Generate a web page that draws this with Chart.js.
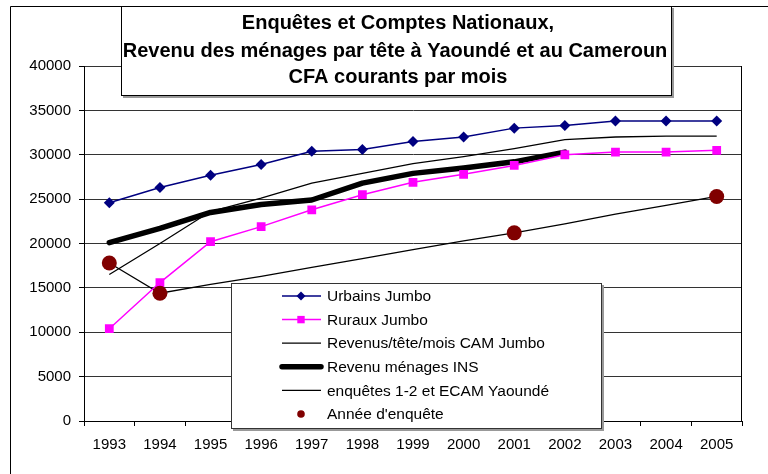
<!DOCTYPE html>
<html>
<head>
<meta charset="utf-8">
<title>Revenu des ménages par tête</title>
<script src="https://cdn.jsdelivr.net/npm/chart.js"></script>
<style>
  body { margin: 0; background: #fff; }
  #wrap { width: 768px; height: 474px; }
</style>
</head>
<body>
<div id="wrap"><canvas id="revenuChart" width="768" height="474"></canvas></div>
<script>
// data
var years = ['1993', '1994', '1995', '1996', '1997', '1998', '1999', '2000', '2001', '2002', '2003', '2004', '2005'];
var urbains = [24600, 26300, 27700, 28900, 30400, 30600, 31500, 32000, 33000, 33300, 33800, 33800, 33800];
var ruraux = [10400, 15600, 20200, 21900, 23800, 25500, 26900, 27800, 28800, 30000, 30300, 30300, 30500];
var camJumbo = [16500, 20000, 23600, 25100, 26800, 27900, 29000, 29800, 30700, 31700, 32000, 32100, 32100];
var menagesIns = [20100, 21700, 23500, 24400, 24900, 26800, 27900, 28500, 29200, 30300, null, null, null];
var enquetes = [17800, 14400, 15400, 16300, 17300, 18300, 19300, 20300, 21200, 22200, 23300, 24300, 25300];
var anneeEnquete = [17800, 14400, null, null, null, null, null, null, 21200, null, null, null, 25300];

var yMin = 0, yMax = 40000, yStep = 5000;

var titleLines = [
  'Enquêtes et Comptes Nationaux,',
  'Revenu des ménages par tête à Yaoundé et au Cameroun',
  'CFA courants par mois'
];
var seriesLabels = [
  'Urbains Jumbo',
  'Ruraux Jumbo',
  'Revenus/tête/mois CAM Jumbo',
  'Revenu ménages INS',
  'enquêtes 1-2 et ECAM Yaoundé',
  "Année d'enquête"
];

var FONT = 'Arial, "Liberation Sans", sans-serif';

// small marker for the legend box
function legendMarker(ctx, style, x, y, color) {
  ctx.fillStyle = color;
  ctx.beginPath();
  if (style === 'rectRot') {
    ctx.moveTo(x, y - 4.5); ctx.lineTo(x + 4.5, y); ctx.lineTo(x, y + 4.5); ctx.lineTo(x - 4.5, y);
    ctx.closePath();
  } else if (style === 'rect') {
    ctx.rect(x - 3.7, y - 3.7, 7.4, 7.4);
  } else {
    ctx.arc(x, y, 3.8, 0, Math.PI * 2);
  }
  ctx.fill();
}

var boxesPlugin = {
  id: 'boxes',
  beforeDraw: function(chart) {
    var ctx = chart.ctx;
    ctx.save();
    ctx.fillStyle = '#fff';
    ctx.fillRect(0, 0, chart.width, chart.height);
    // outer frame (only left and top are inside the picture)
    ctx.strokeStyle = '#000';
    ctx.lineWidth = 1;
    ctx.beginPath();
    ctx.moveTo(10.5, chart.height);
    ctx.lineTo(10.5, 6.5);
    ctx.lineTo(chart.width, 6.5);
    ctx.stroke();
    ctx.restore();
  },
  beforeDatasetsDraw: function(chart) {
    var ctx = chart.ctx, a = chart.chartArea;
    ctx.save();
    ctx.strokeStyle = '#000';
    ctx.lineWidth = 1;
    ctx.beginPath();
    ctx.moveTo(Math.round(a.right) - 0.5, a.top);
    ctx.lineTo(Math.round(a.right) - 0.5, a.bottom);
    ctx.stroke();
    ctx.restore();
  },
  afterDraw: function(chart) {
    var ctx = chart.ctx;
    ctx.save();

    // title box
    ctx.fillStyle = '#999';
    ctx.fillRect(123, 8, 551, 90);
    ctx.fillStyle = '#fff';
    ctx.fillRect(121, 6, 551, 90);
    ctx.strokeStyle = '#000';
    ctx.lineWidth = 1;
    ctx.strokeRect(121.5, 6.5, 550, 89);
    ctx.fillStyle = '#000';
    ctx.font = 'bold 20px ' + FONT;
    ctx.textAlign = 'center';
    ctx.textBaseline = 'alphabetic';
    ctx.fillText(titleLines[0], 398, 29);
    ctx.fillText(titleLines[1], 395, 57);
    ctx.fillText(titleLines[2], 398, 83);

    // legend box
    ctx.fillStyle = '#999';
    ctx.fillRect(233, 285, 371, 146);
    ctx.fillStyle = '#fff';
    ctx.fillRect(231, 283, 371, 146);
    ctx.strokeStyle = '#333';
    ctx.strokeRect(231.5, 283.5, 370, 145);

    ctx.font = '15.5px ' + FONT;
    ctx.textAlign = 'left';
    ctx.textBaseline = 'middle';
    chart.data.datasets.forEach(function(ds, i) {
      var y = 296 + i * 23.6;
      if (ds.showLine !== false) {
        ctx.strokeStyle = ds.borderColor;
        ctx.lineWidth = ds.borderWidth;
        ctx.lineCap = ds.borderWidth > 3 ? 'round' : 'butt';
        ctx.beginPath();
        ctx.moveTo(282, y);
        ctx.lineTo(321, y);
        ctx.stroke();
      }
      if (ds.pointRadius > 0) {
        legendMarker(ctx, ds.pointStyle, 301, y, ds.pointBackgroundColor);
      }
      ctx.fillStyle = '#000';
      ctx.fillText(ds.label, 327, y + 1);
    });
    ctx.restore();
  }
};

var ctx = document.getElementById('revenuChart');

var revenuChart = new Chart(ctx, {
  type: 'line',
  data: {
    labels: years,
    datasets: [
      {
        label: seriesLabels[0],
        data: urbains,
        borderColor: '#000080',
        backgroundColor: '#000080',
        borderWidth: 1.5,
        pointStyle: 'rectRot',
        pointRadius: 5.5,
        pointBackgroundColor: '#000080',
        pointBorderColor: '#000080',
        pointBorderWidth: 0,
        order: 1
      },
      {
        label: seriesLabels[1],
        data: ruraux,
        borderColor: '#ff00ff',
        backgroundColor: '#ff00ff',
        borderWidth: 1.5,
        pointStyle: 'rect',
        pointRadius: 6.2,
        pointBackgroundColor: '#ff00ff',
        pointBorderColor: '#ff00ff',
        pointBorderWidth: 0,
        order: 2
      },
      {
        label: seriesLabels[2],
        data: camJumbo,
        borderColor: '#000',
        borderWidth: 1.3,
        pointRadius: 0,
        order: 4
      },
      {
        label: seriesLabels[3],
        data: menagesIns,
        borderColor: '#000',
        borderWidth: 5.5,
        borderCapStyle: 'round',
        borderJoinStyle: 'round',
        pointRadius: 0,
        order: 3
      },
      {
        label: seriesLabels[4],
        data: enquetes,
        borderColor: '#000',
        borderWidth: 1.3,
        pointRadius: 0,
        order: 5
      },
      {
        label: seriesLabels[5],
        data: anneeEnquete,
        showLine: false,
        pointStyle: 'circle',
        pointRadius: 7.5,
        pointBackgroundColor: '#800000',
        pointBorderColor: '#800000',
        pointBorderWidth: 0,
        order: 0
      }
    ]
  },
  options: {
    responsive: false,
    devicePixelRatio: 1,
    animation: false,
    events: [],
    layout: { padding: { left: 0, top: 66, right: 26, bottom: 0 } },
    elements: { line: { tension: 0 } },
    plugins: {
      legend: { display: false },
      title: { display: false },
      tooltip: { enabled: false }
    },
    scales: {
      x: {
        offset: true,
        grid: {
          offset: true,
          drawOnChartArea: false,
          drawTicks: true,
          tickLength: 5,
          color: '#000'
        },
        border: { display: true, color: '#000', width: 1 },
        ticks: {
          color: '#000',
          font: { family: FONT, size: 15 },
          padding: 10,
          maxRotation: 0,
          autoSkip: false
        },
        afterFit: function(scale) { scale.height = 53; }
      },
      y: {
        min: yMin,
        max: yMax,
        grid: {
          color: '#333',
          tickColor: '#000',
          tickLength: 5,
          drawTicks: true
        },
        border: { display: true, color: '#000', width: 1 },
        ticks: {
          stepSize: yStep,
          color: '#000',
          font: { family: FONT, size: 15 },
          padding: 8,
          callback: function(v) { return String(v); }
        },
        afterFit: function(scale) { scale.width = 84; }
      }
    }
  },
  plugins: [boxesPlugin]
});
</script>
</body>
</html>
